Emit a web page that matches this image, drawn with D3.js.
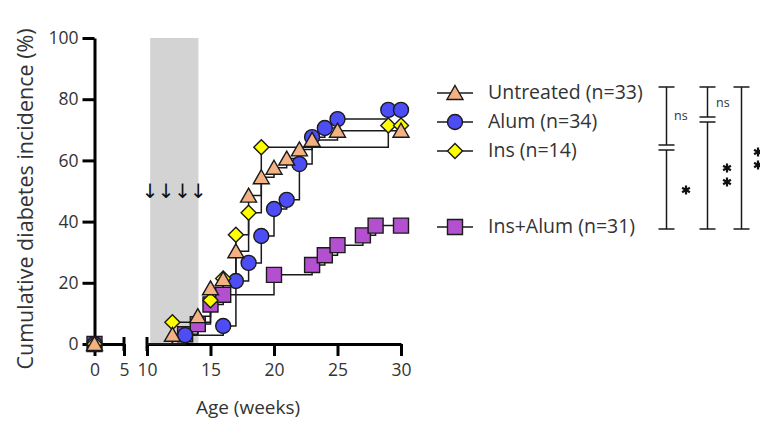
<!DOCTYPE html>
<html>
<head>
<meta charset="utf-8">
<script src="https://cdn.jsdelivr.net/npm/d3@7"></script>
<style>
  body { margin: 0; background: #fff; }
  text { font-family: "Open Sans", "Noto Sans", sans-serif; fill: #333; }
</style>
</head>
<body>
<svg id="chart" width="760" height="421"></svg>
<script>
// weeks and cumulative incidence (%) per group
var untreatedWeeks = [0, 12, 14, 15, 16, 17, 18, 19, 20, 21, 22, 23, 25, 30];
var untreatedPct   = [0, 3.0, 9.1, 18.2, 21.2, 30.3, 48.5, 54.5, 57.6, 60.6, 63.6, 66.7, 69.7, 69.7];
var alumWeeks = [0, 13, 16, 17, 18, 19, 20, 21, 22, 23, 24, 25, 29, 30];
var alumPct   = [0, 2.9, 5.9, 20.6, 26.5, 35.3, 44.1, 47.1, 58.8, 67.6, 70.6, 73.5, 76.5, 76.5];
var insWeeks = [0, 12, 15, 16, 17, 18, 19, 29, 30];
var insPct   = [0, 7.1, 14.3, 21.4, 35.7, 42.9, 64.3, 71.4, 71.4];
var insAlumWeeks = [0, 13, 14, 15, 16, 20, 23, 24, 25, 27, 28, 30];
var insAlumPct   = [0, 3.2, 6.5, 12.9, 16.1, 22.6, 25.8, 29.0, 32.3, 35.5, 38.7, 38.7];

var groupNames = ["Untreated (n=33)", "Alum (n=34)", "Ins (n=14)", "Ins+Alum (n=31)"];
var yTicks = [0, 20, 40, 60, 80, 100];
var xTicksLeft = [0, 5];
var xTicksRight = [10, 15, 20, 25, 30];
var treatmentWeeks = [10.25, 11.5, 12.8, 14.05];
var bandWeeks = [10.25, 14.05];

var svg = d3.select("#chart");

var xa = d3.scaleLinear().domain([0, 5]).range([94.5, 124]);
var xb = d3.scaleLinear().domain([10, 30]).range([147, 401]);
function x(w) { return w <= 5 ? xa(w) : xb(w); }
var y = d3.scaleLinear().domain([0, 100]).range([344, 38]);

// grey dosing band
svg.append("rect")
  .attr("x", xb(bandWeeks[0])).attr("y", y(100))
  .attr("width", xb(bandWeeks[1]) - xb(bandWeeks[0]))
  .attr("height", y(0) - y(100))
  .attr("fill", "#d3d3d3");

svg.selectAll(".arrow").data(treatmentWeeks).enter().append("text")
  .attr("x", function(d) { return xb(d); })
  .attr("y", y(50) + 7)
  .attr("text-anchor", "middle")
  .style("font-family", "DejaVu Sans")
  .style("font-size", "20px")
  .style("fill", "#111")
  .text("↓");

// marker shapes
function shapePath(kind) {
  if (kind == "tri") return "M0,-7.5L8,6.5L-8,6.5Z";
  if (kind == "circle") return d3.symbol(d3.symbolCircle, Math.PI * 7.5 * 7.5)();
  if (kind == "diamond") return "M0,-7.5L7.5,0L0,7.5L-7.5,0Z";
  return "M-7.5,-7.5H7.5V7.5H-7.5Z";
}

var groups = [
  { weeks: insAlumWeeks, pct: insAlumPct, kind: "square", color: "#b350cf" },
  { weeks: alumWeeks, pct: alumPct, kind: "circle", color: "#4d4df5" },
  { weeks: insWeeks, pct: insPct, kind: "diamond", color: "#ffff00" },
  { weeks: untreatedWeeks, pct: untreatedPct, kind: "tri", color: "#f4b183" }
];

var line = d3.line()
  .x(function(d) { return x(d[0]); })
  .y(function(d) { return y(d[1]); })
  .curve(d3.curveStepAfter);

// axes first so markers sit above them
var axisG = svg.append("g");
axisG.append("g")
  .attr("transform", "translate(94.5,0)")
  .call(d3.axisLeft(y).tickValues(yTicks).tickSize(12).tickSizeOuter(0).tickPadding(4).tickFormat(d3.format("d")))
  .call(function(g) {
    g.select(".domain").attr("stroke-width", 3).attr("stroke", "#000");
    g.selectAll(".tick line").attr("stroke-width", 3).attr("stroke", "#000");
    g.selectAll("text").style("font-size", "17.5px").attr("fill", "#333");
  });

function xAxisSeg(scale, ticks) {
  var g = axisG.append("g").attr("transform", "translate(0,344)")
    .call(d3.axisBottom(scale).tickValues(ticks).tickSize(12).tickSizeOuter(0).tickPadding(8).tickFormat(d3.format("d")));
  g.select(".domain").attr("stroke-width", 3).attr("stroke", "#000");
  g.selectAll(".tick line").attr("stroke-width", 3).attr("stroke", "#000");
  g.selectAll("text").style("font-size", "17.5px").attr("fill", "#333");
  return g;
}
xAxisSeg(xa, xTicksLeft);
xAxisSeg(xb, xTicksRight);
// break caps at 5 and 10
[xa(5), xb(10)].forEach(function(px) {
  axisG.append("line").attr("x1", px).attr("x2", px).attr("y1", 337).attr("y2", 351)
    .attr("stroke", "#000").attr("stroke-width", 3);
});

groups.forEach(function(g) {
  var pts = g.weeks.map(function(w, i) { return [w, g.pct[i]]; });
  var stepPts = pts.filter(function(p) { return p[0] > 5; });
  stepPts.unshift([10, 0]);
  svg.append("path").attr("d", line(stepPts))
    .attr("fill", "none").attr("stroke", "#1a1a1a").attr("stroke-width", 1.5);
});

groups.forEach(function(g) {
  svg.selectAll(null).data(g.weeks).enter().append("path")
    .attr("d", shapePath(g.kind))
    .attr("transform", function(w, i) { return "translate(" + x(w) + "," + y(g.pct[i]) + ")"; })
    .attr("fill", g.color).attr("stroke", "#1a1a1a").attr("stroke-width", 1.4);
});

// axis titles
svg.append("text").attr("x", 248).attr("y", 414).attr("text-anchor", "middle")
  .style("font-size", "19px").text("Age (weeks)");
svg.append("text").attr("transform", "translate(33,199) rotate(-90)").attr("text-anchor", "middle")
  .style("font-size", "21.5px").text("Cumulative diabetes incidence (%)");

// legend
var legendRows = [93, 122, 151, 227];
var legendGroups = [groups[3], groups[1], groups[2], groups[0]];
legendGroups.forEach(function(g, i) {
  var ly = legendRows[i];
  svg.append("line").attr("x1", 437).attr("x2", 473).attr("y1", ly).attr("y2", ly)
    .attr("stroke", "#1a1a1a").attr("stroke-width", 1.5);
  svg.append("path").attr("d", shapePath(g.kind))
    .attr("transform", "translate(455," + ly + ")")
    .attr("fill", g.color).attr("stroke", "#1a1a1a").attr("stroke-width", 1.4);
  svg.append("text").attr("x", 488).attr("y", ly + 6)
    .style("font-size", "19.5px").text(groupNames[i]);
});

// significance brackets
function bracket(cx, top, bottom, brk) {
  var segs = brk ? [[top, brk[0]], [brk[1], bottom]] : [[top, bottom]];
  segs.forEach(function(s) {
    svg.append("line").attr("x1", cx).attr("x2", cx).attr("y1", s[0]).attr("y2", s[1])
      .attr("stroke", "#1a1a1a").attr("stroke-width", 1.5);
  });
  var caps = [top, bottom].concat(brk || []);
  caps.forEach(function(cy) {
    svg.append("line").attr("x1", cx - 8).attr("x2", cx + 8).attr("y1", cy).attr("y2", cy)
      .attr("stroke", "#1a1a1a").attr("stroke-width", 1.5);
  });
}
function star(cx, cy) {
  [90, 30, 150].forEach(function(a) {
    var r = a * Math.PI / 180, dx = Math.cos(r) * 4.5, dy = Math.sin(r) * 4.5;
    svg.append("line").attr("x1", cx - dx).attr("x2", cx + dx).attr("y1", cy - dy).attr("y2", cy + dy)
      .attr("stroke", "#111").attr("stroke-width", 2.2);
  });
}
function ns(nx, ny) {
  svg.append("text").attr("x", nx).attr("y", ny).style("font-size", "12.5px").text("ns");
}
bracket(666.5, 87, 229, [145, 150]);
ns(674, 120);
star(686, 190);

bracket(707.5, 87, 229, [117, 122]);
ns(716, 107);
star(727, 168);
star(727, 182);

bracket(741.5, 87, 229, null);
star(758, 152);
star(758, 165);
</script>
</body>
</html>
